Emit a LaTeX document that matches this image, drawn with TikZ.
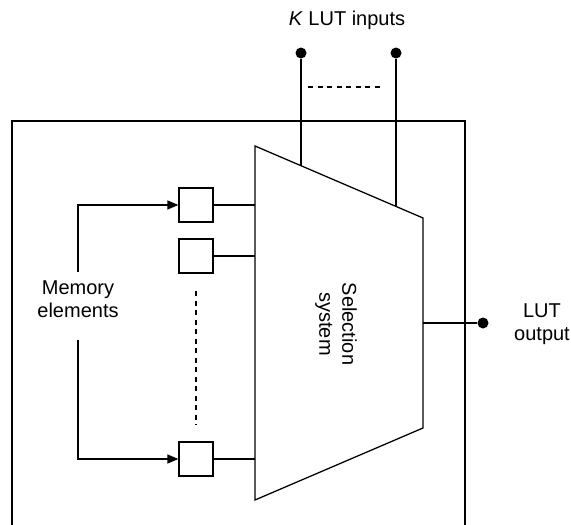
\documentclass[tikz,border=0pt]{standalone}
\usepackage{fontspec}
\setmainfont{Liberation Sans}
\usetikzlibrary{arrows.meta,positioning}

\begin{document}
\begin{tikzpicture}[x=1pt, y=-1pt, line width=1.3pt,
  every node/.style={font=\fontsize{20}{23}\selectfont, align=center},
  cell/.style={draw, minimum size=34pt, inner sep=0pt},
  pin/.style={circle, fill, inner sep=0pt, minimum size=11pt},
  gap/.style={dash pattern=on 5pt off 4.5pt, line width=1.2pt}]
\useasboundingbox (0,0) rectangle (571,525);
% enclosure, open at the bottom
\draw (12,525) -- (12,121) -- (465,121) -- (465,525);
% selection system
\coordinate (tl) at (255,146);
\coordinate (tr) at (423,218);
\coordinate (br) at (423,428);
\coordinate (bl) at (255,500);
\draw (tl) -- (tr) -- (br) -- (bl) -- cycle;
\node[rotate=-90] (sel) at (336,324) {Selection\\system};
% memory cells
\node[cell] (m1) at (196,205) {};
\node[cell] (m2) at (196,256) {};
\node[cell] (m3) at (196,459) {};
\coordinate (e1) at (255,205);
\coordinate (e2) at (255,256);
\coordinate (e3) at (255,459);
\draw (m1.east) -- (e1);
\draw (m2.east) -- (e2);
\draw (m3.east) -- (e3);
\draw[gap] (196,291) -- (196,425);
\node (mem) at (78,299) {Memory\\elements};
\coordinate (a1) at (78,272);
\coordinate (a2) at (78,340);
\draw[-{Triangle[length=11pt,width=9pt]}] (a1) |- (m1);
\draw[-{Triangle[length=11pt,width=9pt]}] (a2) |- (m3);
% inputs
\node (klut) at (347,20) {\textit{K} LUT inputs};
\node[pin] (k1) at (301,53) {};
\node[pin] (k2) at (396,53) {};
\coordinate (t1) at (301,165.7);
\coordinate (t2) at (396,206.4);
\draw (k1) -- (t1);
\draw (k2) -- (t2);
\draw[gap] (308,87) -- (384,87);
% output
\coordinate (o) at (423,323);
\node[pin] (out) at (483,323) {};
\draw (o) -- (out);
\node (outlbl) at (542,324) {LUT\\output};
\end{tikzpicture}
\end{document}
